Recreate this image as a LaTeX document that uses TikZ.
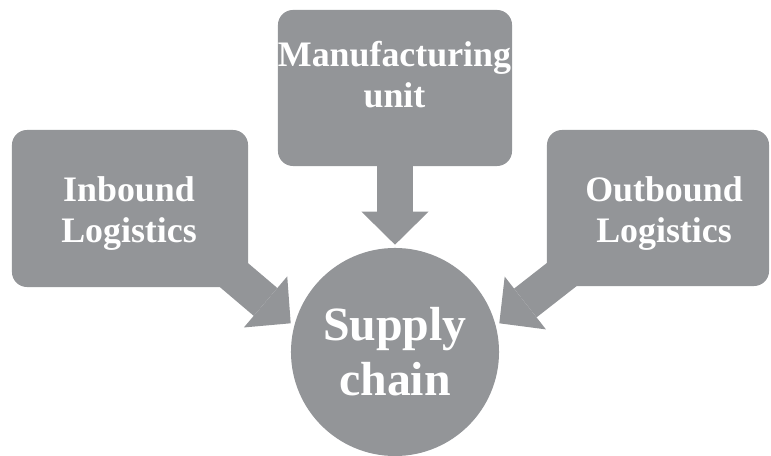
\documentclass[tikz,border=0pt]{standalone}
\usepackage{fontspec}
\setmainfont{Liberation Serif}
\usetikzlibrary{arrows.meta}
\definecolor{cGray}{RGB}{147,149,152}
\tikzset{
	callbox/.style ={rectangle, rounded corners=0.375cm, fill=cGray, inner sep=0pt},
	boxtext/.style ={text=white, align=center, inner sep=0pt, font=\fontsize{25.5}{29}\selectfont\bfseries},
	hub/.style     ={circle, fill=cGray, minimum size=5.2cm, inner sep=0pt, text=white, align=center, font=\fontsize{34}{39}\selectfont\bfseries},
	fatarrow/.style={draw=cGray, line width=0.9125cm, -{Triangle[length=0.825cm, width=1.675cm, line width=0pt]}},
}
\begin{document}
\begin{tikzpicture}[x=0.025cm, y=0.025cm]
	\useasboundingbox (0,0) rectangle (771,455);
	% the three source boxes
	\node[callbox, minimum width=5.9cm, minimum height=3.925cm] (inb) at (130,246.5) {};
	\node[callbox, minimum width=5.85cm, minimum height=3.9cm] (mfg) at (395,367) {};
	\node[callbox, minimum width=5.55cm, minimum height=3.9cm] (outb) at (658,247) {};
	\coordinate (inTip) at (290.7,131.7);
	\coordinate (outTip) at (499.3,131.7);
	% fat arrows into the hub
	\draw[fatarrow, shorten <=-1.1cm] (inb.south east) -- (inTip);
	\draw[fatarrow, shorten <=-1.1cm] (outb.south west) -- (outTip);
	\node[hub] (sc) at (395,103) {Supply\\chain};
	\draw[fatarrow, shorten <=-0.3cm, shorten >=0.075cm] (mfg.south) -- (sc.north);
	\node[boxtext] (inbtext) at (129,241.5) {Inbound\\Logistics};
	\node[boxtext] (mfgtext) at (394.5,380.7) {Manufacturing\\unit};
	\node[boxtext] (outbtext) at (664,241.5) {Outbound\\Logistics};
\end{tikzpicture}
\end{document}
